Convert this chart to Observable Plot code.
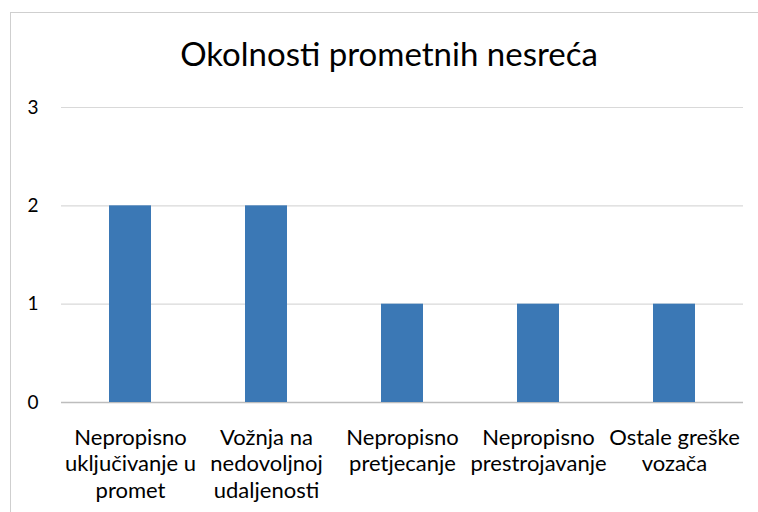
<!DOCTYPE html>
<html>
<head>
<meta charset="utf-8">
<script src="https://cdn.jsdelivr.net/npm/d3@7"></script>
<script src="https://cdn.jsdelivr.net/npm/@observablehq/plot@0.6"></script>
<style>
  html, body { margin: 0; padding: 0; background: #fff; }
  #wrap { position: relative; width: 758px; height: 512px; overflow: hidden; }
  #frame { position: absolute; left: 10px; top: 12px; width: 800px; height: 600px; border: 1px solid #cfcfcf; box-sizing: border-box; }
  #title { position: absolute; left: 0; width: 778px; top: 33px; text-align: center; font-family: Lato, "Open Sans", sans-serif; font-size: 33px; line-height: 40px; color: #000; }
  #chart { position: absolute; left: 0; top: 0; }
</style>
</head>
<body>
<div id="wrap">
  <div id="frame"></div>
  <div id="title">Okolnosti prometnih nesreća</div>
  <div id="chart"></div>
</div>
<script>
const categories = [
  "Nepropisno\nuključivanje u\npromet",
  "Vožnja na\nnedovoljnoj\nudaljenosti",
  "Nepropisno\npretjecanje",
  "Nepropisno\nprestrojavanje",
  "Ostale greške\nvozača"
];
const values = [2, 2, 1, 1, 1];
const yTicks = [0, 1, 2, 3];

const data = categories.map((c, i) => ({ category: c, value: values[i] }));

const chart = Plot.plot({
  width: 758,
  height: 512,
  marginLeft: 61,
  marginRight: 15,
  marginTop: 107,
  marginBottom: 110,
  style: { fontFamily: "Lato, 'Open Sans', sans-serif", background: "transparent", color: "#000" },
  x: { domain: categories, paddingInner: 0.69, paddingOuter: 0.345, label: null },
  y: { domain: [0, 3], ticks: yTicks, label: null },
  marks: [
    Plot.gridY(yTicks, { stroke: "#d9d9d9", strokeOpacity: 1, strokeWidth: 1.2 }),
    Plot.ruleY([0], { stroke: "#bdbdbd", strokeWidth: 1.5 }),
    Plot.barY(data, { x: "category", y: "value", fill: "#3b78b5" }),
    Plot.axisY(yTicks, { tickSize: 0, tickPadding: 23, fontSize: 19, label: null, tickFormat: d => String(d) }),
    Plot.axisX({ tickSize: 0, tickPadding: 23, fontSize: 22, lineHeight: 1.22, lineWidth: 20, label: null })
  ]
});
document.getElementById("chart").appendChild(chart);
</script>
</body>
</html>
